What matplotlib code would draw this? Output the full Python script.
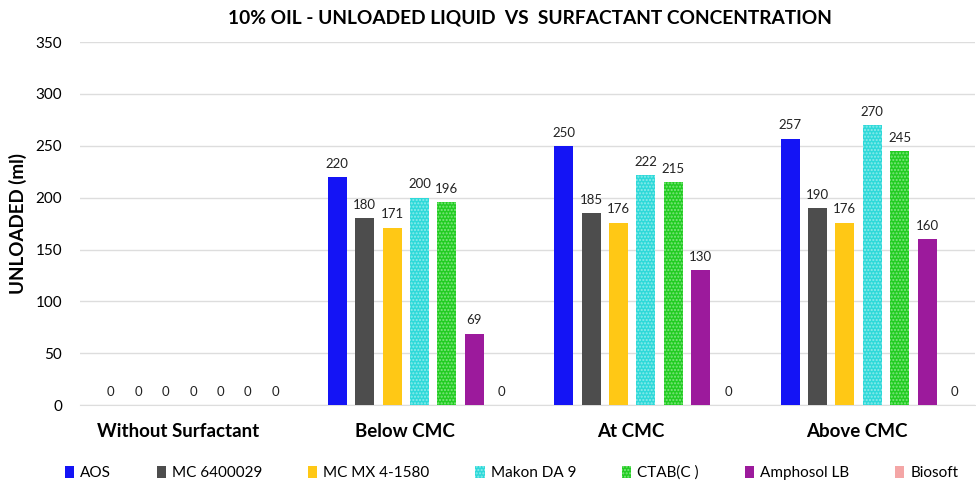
import matplotlib.pyplot as plt
import numpy as np

plt.rcParams['font.family'] = ['Lato', 'DejaVu Sans']

categories = ['Without Surfactant', 'Below CMC', 'At CMC', 'Above CMC']
series = ['AOS', 'MC 6400029', 'MC MX 4-1580', 'Makon DA 9', 'CTAB(C )', 'Amphosol LB', 'Biosoft']
aos = [0, 220, 250, 257]
mc64 = [0, 180, 185, 190]
mcmx = [0, 171, 176, 176]
makon = [0, 200, 222, 270]
ctab = [0, 196, 215, 245]
amphosol = [0, 69, 130, 160]
biosoft = [0, 0, 0, 0]
values = [aos, mc64, mcmx, makon, ctab, amphosol, biosoft]

colors = ['#1414F5', '#4D4D4D', '#FFC815', '#2ED9D9', '#22CC22', '#9C1A9C', '#F4A6A6']
hatch_cols = ['#1414F5', '#4D4D4D', '#FFD84A', '#8CECEC', '#7FE67F', '#9C1A9C', '#F4A6A6']
hatches = ['', '', '', '.....', '.....', '', '']

fig = plt.figure(figsize=(9.76, 4.84), dpi=100)
ax = fig.add_axes([0.082, 0.163, 0.917, 0.75])

x = np.arange(len(categories))
step = 0.121
width = 0.084
offset = 0.066
for i, (name, vals) in enumerate(zip(series, values)):
    pos = x + offset + (i - 3) * step
    bars = ax.bar(pos, vals, width, color=colors[i], edgecolor=hatch_cols[i],
                  linewidth=0, hatch=hatches[i], label=name, zorder=3)
    for b, v in zip(bars, vals):
        ax.text(b.get_x() + b.get_width() / 2, v + 7, str(v), ha='center', va='bottom',
                fontsize=9.5, color='#222222')

ax.set_ylim(0, 350)
ax.set_yticks(range(0, 351, 50))
ax.set_xlim(-0.433, 3.52)
ax.set_xticks(x)
ax.set_xticklabels(categories, fontsize=13.5, fontweight='bold')
ax.tick_params(axis='x', length=0, pad=13)
ax.tick_params(axis='y', length=0, labelsize=11, pad=13)
ax.grid(axis='y', color='#DDDDDD', linewidth=1, zorder=0)
for s in ['top', 'right', 'left']:
    ax.spines[s].set_visible(False)
ax.spines['bottom'].set_color('#DDDDDD')
ax.set_ylabel('UNLOADED (ml)', fontsize=13.5, fontweight='bold', labelpad=6)
fig.text(0.543, 0.963, '10% OIL - UNLOADED LIQUID  VS  SURFACTANT CONCENTRATION',
         ha='center', va='center', fontsize=13.8, fontweight='bold')

ax.legend(loc='center', bbox_to_anchor=(0.524, 0.023), bbox_transform=fig.transFigure,
          ncol=7, frameon=False, fontsize=11, handlelength=0.6, handleheight=0.9,
          handletextpad=0.4, columnspacing=3.0)

fig.savefig('out.png', dpi=100)
